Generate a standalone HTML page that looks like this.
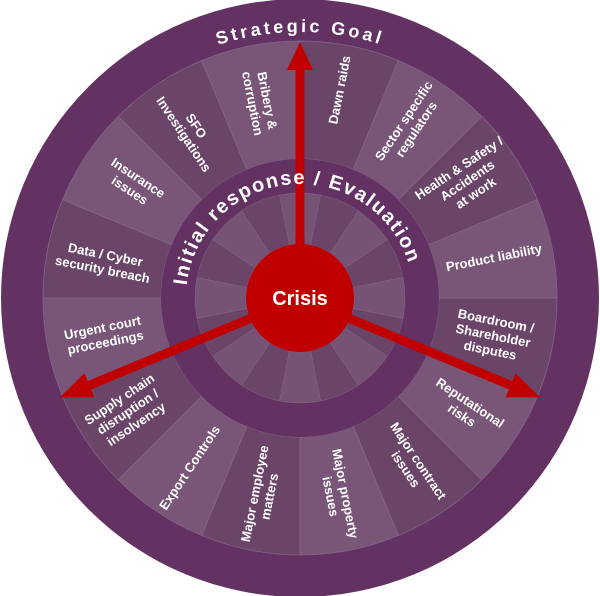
<!DOCTYPE html>
<html><head><meta charset="utf-8"><style>
html,body{margin:0;padding:0;background:#fff;}
svg{display:block}
text{font-family:"Liberation Sans",Arial,sans-serif;font-weight:bold;fill:#fff}
.l{font-size:13px}
</style></head><body>
<svg id="s" width="600" height="596" viewBox="0 0 600 596" xmlns="http://www.w3.org/2000/svg">
<defs>
<path id="arcO" d="M 34 298 A 266 266 0 0 1 566 298"/>
<path id="arcI" d="M 186 298 A 114 114 0 0 1 414 298"/>
</defs>
<circle cx="300" cy="298" r="299" fill="#633263"/>
<g id="segs"></g>
<circle cx="300" cy="298" r="139" fill="#633263"/>
<g id="isegs"></g>
<g fill="#c00000">
<g transform="translate(300,298) rotate(-90)"><rect x="0" y="-4.5" width="232" height="9"/><polygon points="228,-13 256,0 228,13"/></g>
<g transform="translate(300,298) rotate(22.5)"><rect x="0" y="-4.5" width="232" height="9"/><polygon points="228,-13 260,0 228,13"/></g>
<g transform="translate(300,298) rotate(157.5)"><rect x="0" y="-4.5" width="232" height="9"/><polygon points="228,-13 260,0 228,13"/></g>
</g>
<circle cx="300" cy="298" r="54" fill="#c00000"/>
<text x="300" y="305" font-size="20" text-anchor="middle">Crisis</text>
<text font-size="18" letter-spacing="3.2"><textPath href="#arcO" startOffset="50%" text-anchor="middle">Strategic Goal</textPath></text>
<text font-size="20" letter-spacing="1.6"><textPath href="#arcI" startOffset="47%" text-anchor="middle">Initial response / Evaluation</textPath></text>

<g class="l" text-anchor="middle">
<text transform="translate(340,90) rotate(-78.75)" y="4">Dawn raids</text>
<text transform="translate(410,125) rotate(-56.25)"><tspan x="0" y="-3">Sector specific</tspan><tspan x="0" y="12">regulators</tspan></text>
<text transform="translate(467,180) rotate(-33.75)"><tspan x="0" y="-10">Health &amp; Safety /</tspan><tspan x="0" y="5">Accidents</tspan><tspan x="0" y="20">at work</tspan></text>
<text transform="translate(494,258) rotate(-11.25)" y="4">Product liability</text>
<text transform="translate(493,336) rotate(11.25)"><tspan x="0" y="-11">Boardroom /</tspan><tspan x="0" y="4">Shareholder</tspan><tspan x="0" y="19">disputes</tspan></text>
<text transform="translate(466,409) rotate(33.75)"><tspan x="0" y="-3">Reputational</tspan><tspan x="0" y="12">risks</tspan></text>
<text transform="translate(412,465) rotate(56.25)"><tspan x="0" y="-3">Major contract</tspan><tspan x="0" y="12">issues</tspan></text>
<text transform="translate(338,495) rotate(78.75)"><tspan x="0" y="-3">Major property</tspan><tspan x="0" y="12">issues</tspan></text>
<text transform="translate(262,495) rotate(-78.75)"><tspan x="0" y="-3">Major employee</tspan><tspan x="0" y="12">matters</tspan></text>
<text transform="translate(190,468) rotate(-56.25)" y="4">Export Controls</text>
<text transform="translate(128,412) rotate(-33.75)"><tspan x="0" y="-11">Supply chain</tspan><tspan x="0" y="4">disruption /</tspan><tspan x="0" y="19">insolvency</tspan></text>
<text transform="translate(104,335) rotate(-11.25)"><tspan x="0" y="-3">Urgent court</tspan><tspan x="0" y="12">proceedings</tspan></text>
<text transform="translate(104,262) rotate(11.25)"><tspan x="0" y="-3">Data / Cyber</tspan><tspan x="0" y="12">security breach</tspan></text>
<text transform="translate(134,184) rotate(33.75)"><tspan x="0" y="-3">Insurance</tspan><tspan x="0" y="12">issues</tspan></text>
<text transform="translate(190,130) rotate(56.25)"><tspan x="0" y="-3">SFO</tspan><tspan x="0" y="12">Investigations</tspan></text>
<text transform="translate(260,102) rotate(78.75)"><tspan x="0" y="-3">Bribery &amp;</tspan><tspan x="0" y="12">corruption</tspan></text>
</g>
</svg>
<script>
function sector(r0,r1,a0,a1,fill,sw){
  var c=Math.PI/180,cx=300,cy=298;
  function p(r,a){return (cx+r*Math.cos(a*c)).toFixed(2)+" "+(cy+r*Math.sin(a*c)).toFixed(2);}
  var d="M "+p(r0,a0)+" L "+p(r1,a0)+" A "+r1+" "+r1+" 0 0 1 "+p(r1,a1)+" L "+p(r0,a1)+" A "+r0+" "+r0+" 0 0 0 "+p(r0,a0)+" Z";
  var e=document.createElementNS("http://www.w3.org/2000/svg","path");
  e.setAttribute("d",d);e.setAttribute("fill",fill);
  e.setAttribute("stroke","#85658a");e.setAttribute("stroke-width",sw);
  return e;
}
var g=document.getElementById("segs"),gi=document.getElementById("isegs");
for(var i=0;i<16;i++){
  var a0=-90+22.5*i;
  g.appendChild(sector(139,257,a0,a0+22.5,i%2?"#795677":"#6b4568","0.8"));
  gi.appendChild(sector(54,105,a0+11.25,a0+33.75,i%2?"#765374":"#6b4568","0.5"));
}
</script>
</body></html>
